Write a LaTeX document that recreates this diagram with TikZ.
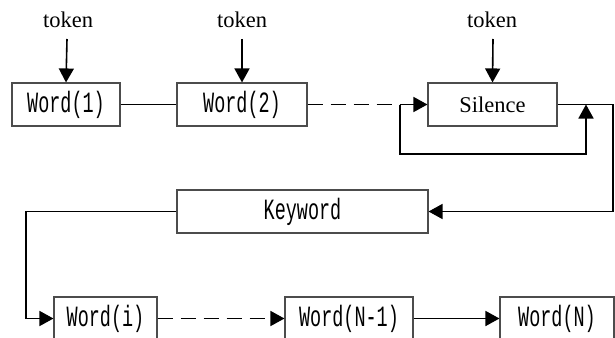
\documentclass[tikz,border=0pt]{standalone}
\usepackage{fontspec}
\setmainfont{Liberation Serif}
\newfontfamily\monofam{Liberation Mono}
\usetikzlibrary{arrows.meta}
\newcommand{\mtxt}[1]{\scalebox{0.66}[1.05]{\fontsize{28}{30}\selectfont\monofam #1}}
\tikzset{
  box/.style={draw=black!70, line width=1.1pt, rectangle, inner sep=0pt, minimum height=43pt},
  conn/.style={line width=1.6pt, draw=black},
  arr/.style={-{Triangle[length=14pt,width=15pt]}},
  dsh/.style={dash pattern=on 15pt off 8pt},
  tok/.style={font=\fontsize{22.5}{24}\selectfont, inner sep=0pt}
}
\begin{document}
\begin{tikzpicture}[x=1pt,y=-1pt]
\useasboundingbox (0,0) rectangle (615,337);
\clip (0,0) rectangle (615,337);
% boxes
\node[box, minimum width=108pt] (w1) at (66,104.5) {\mtxt{Word(1)}};
\node[box, minimum width=130pt] (w2) at (242,104.5) {\mtxt{Word(2)}};
\node[box, minimum width=129pt] (sil) at (492.5,104.5) {\fontsize{22.5}{24}\selectfont Silence};
\node[box, minimum width=251pt] (kw) at (302.5,211.5) {\mtxt{Keyword}};
\node[box, minimum width=103pt] (wi) at (105.5,318.5) {\mtxt{Word(i)}};
\node[box, minimum width=128pt] (wn1) at (349,318.5) {\mtxt{Word(N-1)}};
\node[box, minimum width=114pt] (wn) at (557,318.5) {\mtxt{Word(N)}};
% token labels
\node[tok] (t1) at (68,20) {token};
\node[tok] (t2) at (242,20) {token};
\node[tok] (t3) at (492,20) {token};
\coordinate (t1s) at (67,39);
\coordinate (t2s) at (242,39);
\coordinate (t3s) at (493,39);
\draw[conn,arr] (t1s) -- (w1.north);
\draw[conn,arr] (t2s) -- (w2.north);
\draw[conn,arr] (t3s) -- (sil.north);
% top chain
\draw[conn] (w1.east) -- (w2.west);
\coordinate (lp) at (400,104.5);
\draw[conn,dsh] (w2.east) -- (lp);
\draw[conn,arr] (lp) -- (sil.west);
\coordinate (lb1) at (400,154);
\coordinate (lb2) at (586,154);
\coordinate (lt) at (586,104.5);
\draw[conn,arr] (lp) -- (lb1) -- (lb2) -- (lt);
% silence to keyword
\coordinate (r1) at (613,104.5);
\coordinate (r2) at (613,211.5);
\draw[conn,arr] (sil.east) -- (r1) -- (r2) -- (kw.east);
% keyword to word(i)
\coordinate (k1) at (26,211.5);
\coordinate (k2) at (26,318.5);
\draw[conn,arr] (kw.west) -- (k1) -- (k2) -- (wi.west);
% bottom chain
\draw[conn,dsh,arr] (wi.east) -- (wn1.west);
\draw[conn,arr] (wn1.east) -- (wn.west);
\end{tikzpicture}
\end{document}
